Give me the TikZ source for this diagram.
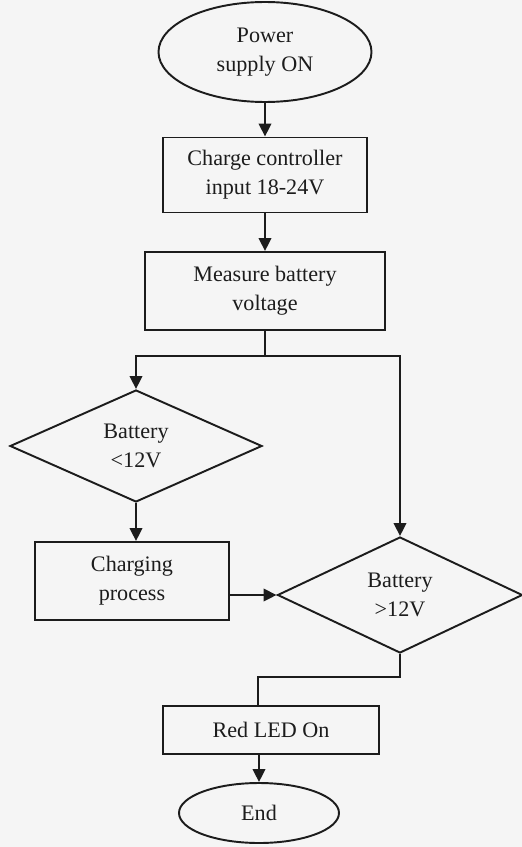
\documentclass[tikz,border=0pt]{standalone}
\usepackage{fontspec}
\setmainfont{Liberation Serif}
\usetikzlibrary{arrows.meta,shapes.geometric}
\definecolor{paper}{HTML}{F5F5F5}
\definecolor{ink}{HTML}{1C1C1C}
\tikzset{
  term/.style={ellipse, draw=ink, line width=1.1pt, inner sep=0pt, align=center},   % start / end
  proc/.style={rectangle, draw=ink, line width=1.1pt, inner sep=0pt, align=center}, % process box
  dec/.style={diamond, draw=ink, line width=1.1pt, inner sep=0pt, align=center},    % decision
  fl/.style={draw=ink, line width=1.1pt, -{Triangle[length=2.6mm, width=2.5mm]}},  % flow arrow
  ln/.style={draw=ink, line width=1.1pt},                                           % plain line
}

\begin{document}
\begin{tikzpicture}[x=0.2mm, y=-0.2mm, font=\fontsize{12.6}{16.5}\selectfont, text=ink]
  \fill[paper] (0,0) rectangle (522,847);
  \useasboundingbox (0,0) rectangle (522,847);
  % ---------------- main column ----------------
  \node[term, minimum width=42.6mm, minimum height=20mm] (start) at (265,52)  {Power\\supply ON};
  \node[proc, minimum width=40.8mm, minimum height=15mm]   (ctrl)  at (265,175) {Charge controller\\input 18-24V};
  \node[proc, minimum width=48mm,   minimum height=15.6mm] (meas)  at (265,291) {Measure battery\\voltage};
  % ---------------- decisions ----------------
  \node[dec, minimum width=50.4mm, minimum height=22.4mm] (dec1) at (136,446) {Battery\\<12V};
  \node[proc, minimum width=38.8mm, minimum height=15.6mm] (chg) at (132,581) {Charging\\process};
  \node[dec, minimum width=49mm, minimum height=23.2mm] (dec2) at (400,595) {Battery\\>12V};
  % ---------------- end ----------------
  \node[proc, minimum width=43.2mm, minimum height=9.6mm] (led) at (271,730) {Red LED On};
  \node[term, minimum width=32mm, minimum height=12mm] (end) at (259,813) {End};
  \coordinate (fork) at (meas.south |- 0,356);
  \draw[fl] (start) -- (ctrl);
  \draw[fl] (ctrl) -- (meas);
  \draw[ln] (meas.south) -- (fork);
  \draw[fl] (fork) -| (dec1.north);
  \draw[fl] (fork) -| (dec2.north);
  \draw[fl] (dec1.south) -- (dec1.south |- chg.north);
  \draw[fl] (chg.east |- dec2.west) -- (dec2.west);
  \draw[ln] (dec2.south) -- ++(0,23) -| ([xshift=-2.6mm]led.north);
  \draw[fl] (end.north |- led.south) -- (end.north);
\end{tikzpicture}
\end{document}
